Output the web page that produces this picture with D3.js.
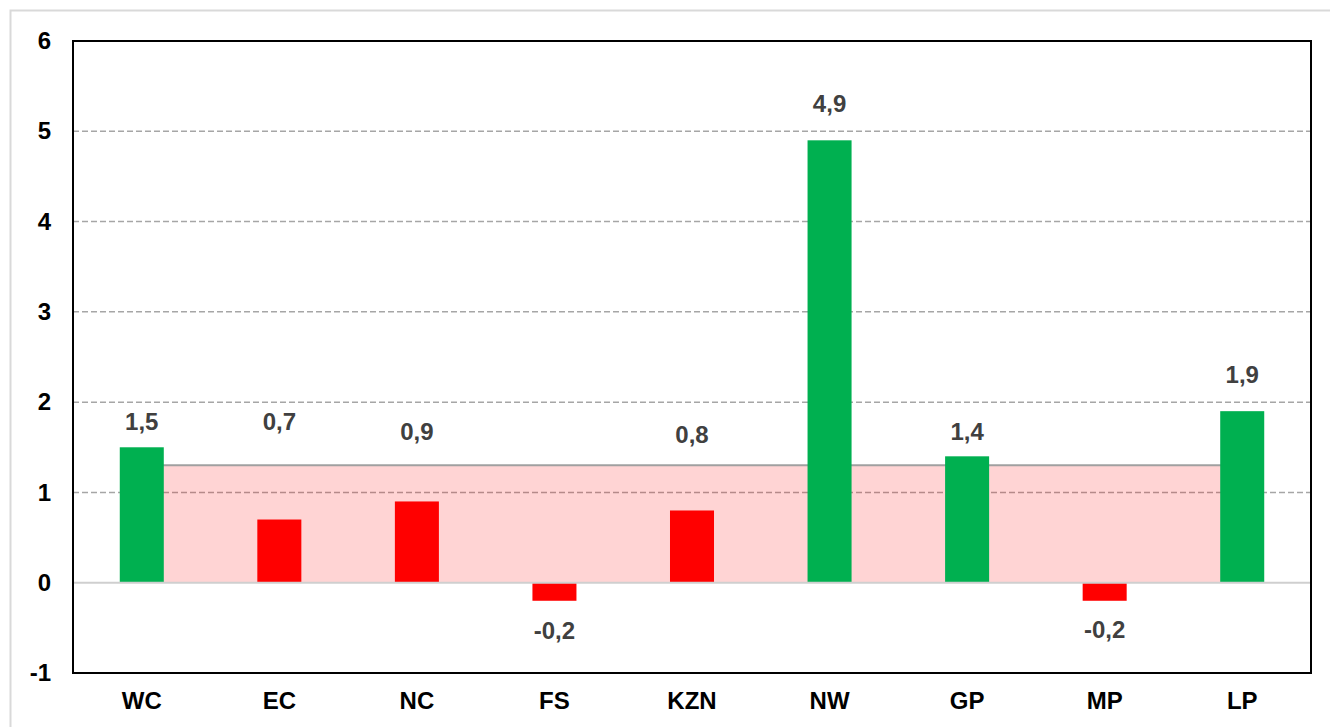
<!DOCTYPE html>
<html>
<head>
<meta charset="utf-8">
<script src="https://cdn.jsdelivr.net/npm/d3@7"></script>
<style>
  html, body { margin: 0; padding: 0; background: #fff; overflow: hidden; }
  svg text { font-family: "Liberation Sans", Arial, sans-serif; font-weight: bold; }
</style>
</head>
<body>
<svg id="chart" width="1330" height="727"></svg>
<script>
// provinces
const categories = ['WC', 'EC', 'NC', 'FS', 'KZN', 'NW', 'GP', 'MP', 'LP'];
const values = [1.5, 0.7, 0.9, -0.2, 0.8, 4.9, 1.4, -0.2, 1.9];
// shaded reference band (0 .. threshold)
const threshold = 1.3;
const yTicks = [-1, 0, 1, 2, 3, 4, 5, 6];
const gridTicks = [1, 2, 3, 4, 5];

// layout
const width = 1330, height = 727;
const plot = {left: 73, top: 41, right: 1311, bottom: 673};
const barFrac = 0.32;
const green = '#00B050', red = '#FF0000';

// labels were hand-placed in the original, nudge them (px from bar end)
const labelNudge = {WC: -17, EC: -90, NC: -61, FS: 38, KZN: -67, NW: -28, GP: -16, MP: 37, LP: -28};

const svg = d3.select('#chart');

// outer container border (clipped at right/bottom)
svg.append('rect')
    .attr('x', 10.5).attr('y', 10.5)
    .attr('width', 1400).attr('height', 800)
    .attr('fill', '#fff')
    .attr('stroke', '#d9d9d9')
    .attr('stroke-width', 2);

const x = d3.scaleBand()
    .domain(categories)
    .range([plot.left, plot.right])
    .padding(0);

const y = d3.scaleLinear()
    .domain([-1, 6])
    .range([plot.bottom, plot.top]);

const bw = x.bandwidth() * barFrac;
const cx = (c) => x(c) + x.bandwidth() / 2;

// gridlines
svg.append('g')
    .attr('class', 'grid')
    .selectAll('line')
    .data(gridTicks)
    .enter()
    .append('line')
    .attr('x1', plot.left).attr('x2', plot.right)
    .attr('y1', (d) => y(d)).attr('y2', (d) => y(d))
    .attr('stroke', '#a6a6a6')
    .attr('stroke-width', 1.5)
    .attr('stroke-dasharray', '6,3');

// threshold band, from first to last category centre
const bandData = categories.map((c) => ({c: c, v: threshold}));
const area = d3.area()
    .x((d) => cx(d.c))
    .y0(y(0))
    .y1((d) => y(d.v));
svg.append('path')
    .datum(bandData)
    .attr('d', area)
    .attr('fill', 'rgba(255,0,0,0.17)');
svg.append('path')
    .datum(bandData)
    .attr('d', d3.line().x((d) => cx(d.c)).y((d) => y(d.v)))
    .attr('fill', 'none')
    .attr('stroke', '#a0a0a0')
    .attr('stroke-width', 2);

// bars
const data = categories.map((c, i) => ({c: c, v: values[i]}));
const bars = svg.selectAll('.bar')
    .data(data)
    .enter()
    .append('g')
    .attr('class', 'bar');

bars.append('rect')
    .attr('x', (d) => cx(d.c) - bw / 2)
    .attr('width', bw)
    .attr('y', (d) => y(Math.max(0, d.v)))
    .attr('height', (d) => Math.abs(y(d.v) - y(0)))
    .attr('fill', (d) => d.v > threshold ? green : red);

// zero line
svg.append('line')
    .attr('x1', plot.left).attr('x2', plot.right)
    .attr('y1', y(0)).attr('y2', y(0))
    .attr('stroke', '#cfcfcf')
    .attr('stroke-width', 2);

// value labels
const fmt = (v) => d3.format('.1f')(v).replace('.', ',').replace('−', '-');
bars.append('text')
    .attr('x', (d) => cx(d.c))
    .attr('y', (d) => y(d.v) + labelNudge[d.c])
    .attr('text-anchor', 'middle')
    .attr('font-size', 24)
    .attr('fill', '#404040')
    .text((d) => fmt(d.v));

// plot frame
svg.append('rect')
    .attr('x', plot.left).attr('y', plot.top)
    .attr('width', plot.right - plot.left)
    .attr('height', plot.bottom - plot.top)
    .attr('fill', 'none')
    .attr('stroke', '#000')
    .attr('stroke-width', 2);

// y axis labels
const yAxis = d3.axisLeft(y)
    .tickValues(yTicks)
    .tickFormat((d) => d < 0 ? '-' + Math.abs(d) : d)
    .tickSize(0)
    .tickPadding(22);
const yAxisSvg = svg.append('g')
    .attr('class', 'y-axis')
    .attr('transform', 'translate(' + plot.left + ',0)')
    .call(yAxis);
yAxisSvg.select('.domain').remove();
yAxisSvg.selectAll('.tick text')
    .attr('font-size', 24)
    .attr('font-family', '"Liberation Sans", Arial, sans-serif')
    .attr('fill', '#000');

// x axis labels
const xAxis = d3.axisBottom(x).tickSize(0).tickPadding(19);
const xAxisSvg = svg.append('g')
    .attr('class', 'x-axis')
    .attr('transform', 'translate(0,' + plot.bottom + ')')
    .call(xAxis);
xAxisSvg.select('.domain').remove();
xAxisSvg.selectAll('.tick text')
    .attr('font-size', 24)
    .attr('font-family', '"Liberation Sans", Arial, sans-serif')
    .attr('fill', '#000');
</script>
</body>
</html>
